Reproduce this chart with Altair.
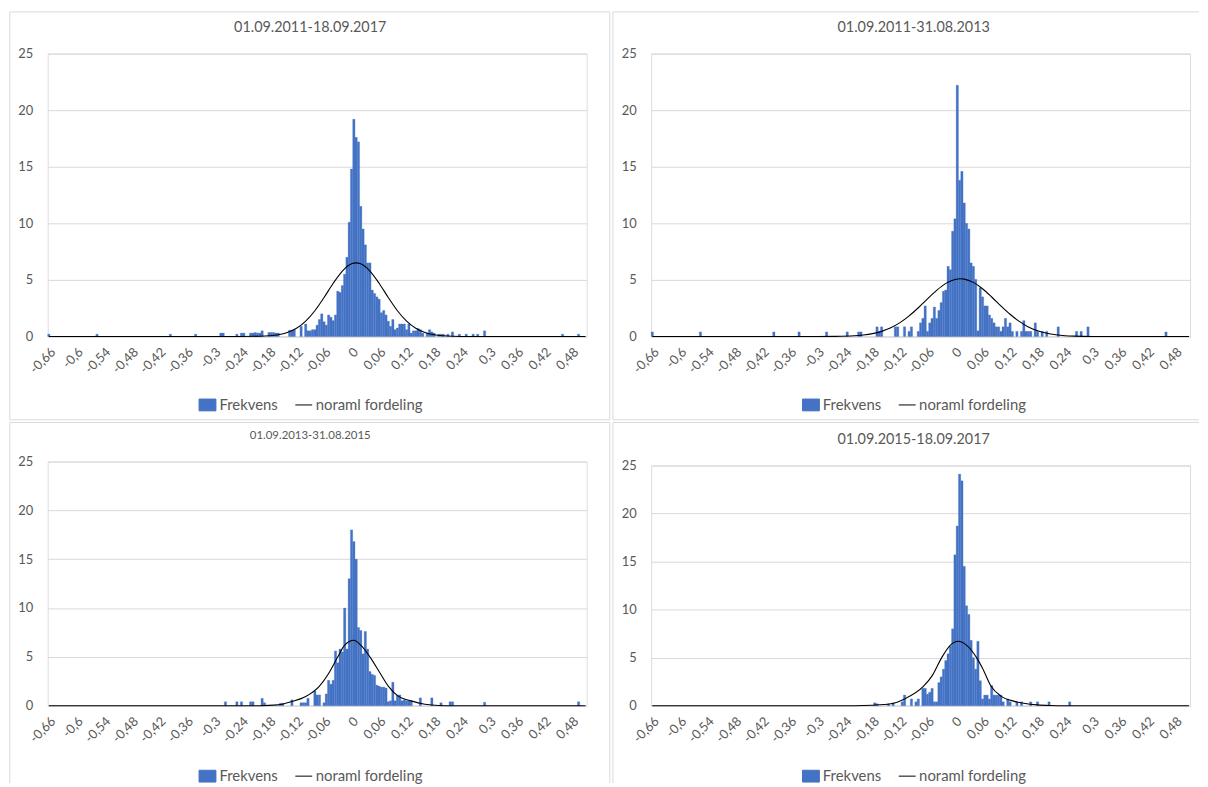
import altair as alt
import pandas as pd

FONT = "Lato"
GRAY = "#595959"
BLUE = "#4472C4"
GRID = "#D9D9D9"
SERIES = ["Frekvens", "noraml fordeling"]
BIN_W = 0.005
X_DOMAIN = [-0.6625, 0.5125]

x_ticks = [-0.66, -0.6, -0.54, -0.48, -0.42, -0.36, -0.3, -0.24, -0.18, -0.12, -0.06,
           0.0, 0.06, 0.12, 0.18, 0.24, 0.3, 0.36, 0.42, 0.48]
y_ticks = [0, 5, 10, 15, 20, 25]

titles = ["01.09.2011-18.09.2017", "01.09.2011-31.08.2013",
          "01.09.2013-31.08.2015", "01.09.2015-18.09.2017"]

# ---- Panel 1: 01.09.2011-18.09.2017 (bin centres, frequency) ----
p1_bins = [-0.66, -0.555, -0.395, -0.34, -0.285, -0.28, -0.25, -0.24, -0.235, -0.22, -0.215,
           -0.21, -0.205, -0.2, -0.195, -0.18, -0.175, -0.17, -0.165, -0.16, -0.135, -0.13,
           -0.125, -0.11, -0.1, -0.095, -0.09, -0.085, -0.08, -0.075, -0.07, -0.065, -0.06,
           -0.055, -0.05, -0.045, -0.04, -0.035, -0.03, -0.025, -0.02, -0.015, -0.01, -0.005,
           0.0, 0.005, 0.01, 0.015, 0.02, 0.025, 0.03, 0.035, 0.04, 0.045, 0.05, 0.055, 0.06,
           0.065, 0.07, 0.075, 0.08, 0.085, 0.09, 0.095, 0.1, 0.105, 0.11, 0.115, 0.12, 0.125,
           0.13, 0.135, 0.14, 0.145, 0.15, 0.155, 0.165, 0.17, 0.175, 0.18, 0.19, 0.195, 0.2,
           0.21, 0.22, 0.235, 0.25, 0.265, 0.275, 0.29, 0.46, 0.495]
p1_freq = [0.2, 0.2, 0.2, 0.2, 0.3, 0.3, 0.2, 0.3, 0.3, 0.3, 0.3,
           0.35, 0.3, 0.3, 0.5, 0.35, 0.35, 0.35, 0.3, 0.3, 0.55, 0.55,
           0.6, 0.9, 1.1, 0.5, 0.5, 0.6, 0.6, 1.0, 1.5, 2.0, 1.3,
           1.0, 1.9, 1.7, 1.4, 1.9, 4.0, 3.9, 4.5, 5.5, 7.0, 10.1,
           14.8, 19.2, 17.6, 17.2, 11.5, 9.5, 8.1, 6.5, 6.5, 4.1, 3.8, 3.5, 3.3,
           2.1, 2.3, 1.9, 1.35, 0.9, 1.5, 0.6, 0.75, 1.1, 1.1, 1.1, 0.6, 1.1,
           0.3, 0.5, 0.5, 0.7, 0.6, 0.3, 0.3, 0.6, 0.4, 0.3, 0.2, 0.2, 0.2,
           0.2, 0.4, 0.2, 0.2, 0.2, 0.2, 0.5, 0.2, 0.2]
c1_x = [-0.66, -0.3, -0.24, -0.2, -0.18, -0.16, -0.14, -0.12, -0.1, -0.08, -0.06, -0.04, -0.02,
        0.0, 0.01, 0.02, 0.04, 0.06, 0.08, 0.1, 0.12, 0.14, 0.16, 0.18, 0.2, 0.22, 0.26, 0.3, 0.51]
c1_y = [0.0, 0.0, 0.0, 0.02, 0.06, 0.15, 0.35, 0.72, 1.35, 2.27, 3.44, 4.7, 5.78,
        6.42, 6.5, 6.42, 5.78, 4.7, 3.44, 2.27, 1.35, 0.72, 0.35, 0.15, 0.06, 0.02, 0.0, 0.0, 0.0]

# ---- Panel 2: 01.09.2011-31.08.2013 ----
p2_bins = [-0.66, -0.555, -0.395, -0.34, -0.28, -0.235, -0.21, -0.205, -0.17, -0.165, -0.16,
           -0.13, -0.125, -0.11, -0.1, -0.095, -0.08, -0.075, -0.07, -0.065, -0.06, -0.055,
           -0.05, -0.045, -0.04, -0.035, -0.03, -0.025, -0.02, -0.015, -0.01, -0.005, 0.0,
           0.005, 0.01, 0.015, 0.02, 0.025, 0.03, 0.035, 0.04, 0.045, 0.05, 0.055, 0.06, 0.065,
           0.07, 0.075, 0.08, 0.085, 0.09, 0.095, 0.1, 0.105, 0.11, 0.115, 0.12, 0.125, 0.135,
           0.145, 0.15, 0.155, 0.16, 0.165, 0.175, 0.18, 0.19, 0.2, 0.225, 0.265, 0.275, 0.29,
           0.46]
p2_freq = [0.4, 0.4, 0.4, 0.4, 0.4, 0.4, 0.4, 0.4, 0.85, 0.45, 0.85,
           0.85, 0.85, 0.85, 0.45, 0.85, 0.45, 1.2, 1.6, 2.7, 0.45, 1.2,
           1.6, 2.6, 1.6, 2.3, 3.0, 4.0, 4.1, 6.2, 5.9, 9.3, 10.4,
           22.2, 13.8, 14.6, 11.8, 10.0, 9.5, 6.5, 6.2, 5.05, 0.5, 4.3, 3.5, 2.7,
           2.7, 1.9, 1.6, 1.2, 0.85, 0.85, 0.45, 0.85, 1.6, 0.85, 1.2, 0.45, 0.45,
           0.45, 1.4, 0.45, 0.45, 0.45, 1.2, 0.45, 0.45, 0.45, 0.85, 0.45, 0.45, 0.85,
           0.4]
c2_x = [-0.66, -0.3, -0.26, -0.22, -0.2, -0.18, -0.16, -0.14, -0.12, -0.1, -0.08, -0.06, -0.04,
        -0.02, 0.0, 0.012, 0.02, 0.04, 0.06, 0.08, 0.1, 0.12, 0.14, 0.16, 0.18, 0.2, 0.22, 0.24,
        0.26, 0.3, 0.51]
c2_y = [0.0, 0.0, 0.01, 0.06, 0.13, 0.25, 0.45, 0.76, 1.22, 1.82, 2.54, 3.33, 4.08,
        4.69, 5.04, 5.1, 5.07, 4.78, 4.22, 3.49, 2.7, 1.96, 1.33, 0.84, 0.5, 0.28, 0.15, 0.07,
        0.03, 0.0, 0.0]

# ---- Panel 3: 01.09.2013-31.08.2015 ----
p3_bins = [-0.275, -0.25, -0.24, -0.22, -0.215, -0.195, -0.19, -0.155, -0.15, -0.13, -0.11,
           -0.105, -0.1, -0.095, -0.08, -0.075, -0.07, -0.06, -0.055, -0.05, -0.045, -0.04,
           -0.035, -0.03, -0.025, -0.02, -0.015, -0.01, -0.005, 0.0, 0.005, 0.01, 0.015, 0.02,
           0.025, 0.03, 0.035, 0.04, 0.045, 0.05, 0.055, 0.06, 0.065, 0.07, 0.075, 0.08, 0.085,
           0.09, 0.095, 0.1, 0.105, 0.11, 0.115, 0.12, 0.125, 0.13, 0.15, 0.175, 0.195, 0.215,
           0.22, 0.29, 0.495]
p3_freq = [0.4, 0.4, 0.4, 0.4, 0.4, 0.75, 0.3, 0.25, 0.25, 0.6, 0.3,
           0.3, 0.3, 0.75, 1.5, 1.1, 1.1, 0.3, 1.2, 2.6, 2.2, 2.6,
           5.6, 4.4, 5.8, 5.5, 10.0, 5.8, 13.0, 18.0, 16.8, 15.0, 8.0, 7.7,
           5.3, 7.6, 5.8, 3.5, 3.2, 3.1, 2.1, 2.0, 1.9, 1.9, 1.8, 0.4, 0.5,
           2.4, 0.5, 1.1, 1.1, 0.5, 0.6, 0.5, 0.5, 0.5, 0.8, 0.8, 0.3, 0.4,
           0.4, 0.35, 0.4]
c3_x = [-0.66, -0.2, -0.16, -0.13, -0.1, -0.07, -0.05, -0.03, -0.015, 0.005, 0.02, 0.04, 0.06,
        0.08, 0.1, 0.13, 0.16, 0.19, 0.22, 0.51]
c3_y = [0.0, 0.0, 0.08, 0.42, 0.93, 2.0, 3.3, 5.0, 6.2, 6.7, 6.2, 5.0, 3.5,
        2.0, 1.03, 0.49, 0.15, 0.02, 0.0, 0.0]

# ---- Panel 4: 01.09.2015-18.09.2017 ----
p4_bins = [-0.175, -0.17, -0.145, -0.135, -0.115, -0.11, -0.095, -0.085, -0.08, -0.07, -0.065,
           -0.06, -0.055, -0.05, -0.045, -0.04, -0.035, -0.03, -0.025, -0.02, -0.015, -0.01,
           -0.005, 0.0, 0.005, 0.01, 0.015, 0.02, 0.025, 0.03, 0.035, 0.04, 0.045, 0.05,
           0.055, 0.06, 0.065, 0.07, 0.075, 0.08, 0.085, 0.09, 0.095, 0.1, 0.105, 0.115,
           0.12, 0.135, 0.145, 0.165, 0.18, 0.205, 0.25]
p4_freq = [0.3, 0.2, 0.2, 0.3, 0.4, 1.1, 0.7, 0.4, 0.7, 1.8, 1.8,
           1.2, 1.4, 1.8, 0.4, 0.4, 2.4, 3.0, 3.8, 4.7, 5.4, 6.2,
           8.0, 15.7, 18.7, 24.1, 23.4, 14.5, 10.4, 9.5, 6.8, 5.0, 3.8, 6.7,
           2.6, 0.7, 1.1, 1.1, 0.7, 2.1, 1.1, 1.1, 1.1, 1.1, 0.4, 0.7,
           0.4, 0.4, 0.4, 0.4, 0.4, 0.4, 0.4]
c4_x = [-0.66, -0.22, -0.18, -0.14, -0.11, -0.069, -0.05, -0.029, -0.01, 0.007, 0.025, 0.047,
        0.06, 0.079, 0.1, 0.13, 0.15, 0.18, 0.21, 0.24, 0.51]
c4_y = [0.0, 0.0, 0.05, 0.2, 0.7, 2.0, 3.1, 5.0, 6.3, 6.7, 6.3, 5.0,
        3.9, 2.0, 1.0, 0.45, 0.25, 0.08, 0.02, 0.0, 0.0]

LABEL_EXPR = "replace(replace(format(datum.value, '.2~f'), '.', ','), '\u2212', '-')"
frame_df = pd.DataFrame({"frame": ["chart area"]})


def legend(x, y, symbol):
    return alt.Legend(title=None, orient="none", legendX=x, legendY=y, direction="horizontal",
                      labelFont=FONT, labelFontSize=15, labelColor=GRAY, symbolSize=289,
                      symbolType=symbol, symbolStrokeWidth=1, labelOffset=3, padding=0)


def frame(left, right, top, bottom, sides):
    """Light grey chart-area border (Excel style), placed around the plot in pixels."""
    parts = []
    base = alt.Chart(frame_df).mark_rule(color=GRID, strokeWidth=1)
    if "l" in sides:
        parts.append(base.encode(x=alt.value(left), y=alt.value(top), y2=alt.value(bottom)))
    if "r" in sides:
        parts.append(base.encode(x=alt.value(right), y=alt.value(top), y2=alt.value(bottom)))
    if "t" in sides:
        parts.append(base.encode(x=alt.value(left), x2=alt.value(right), y=alt.value(top)))
    if "b" in sides:
        parts.append(base.encode(x=alt.value(left), x2=alt.value(right), y=alt.value(bottom)))
    return parts


def panel(title, title_size, title_offset, bins, freq, cx, cy, height, legend_y, border):
    bars_df = pd.DataFrame({
        "lo": [b - BIN_W / 2 for b in bins],
        "hi": [b + BIN_W / 2 for b in bins],
        "f": freq,
        "s": SERIES[0],
    })
    curve_df = pd.DataFrame({"x": cx, "y": cy, "s": SERIES[1]})

    xscale = alt.Scale(domain=X_DOMAIN, nice=False, zero=False)
    yscale = alt.Scale(domain=[0, 25], nice=False)
    xaxis = alt.Axis(values=x_ticks, labelExpr=LABEL_EXPR, labelAngle=-45, labelFont=FONT,
                     labelFontSize=13, labelColor=GRAY, ticks=False, grid=False,
                     domainColor=GRID, labelPadding=9, title=None, labelOverlap=False,
                     labelBound=False, labelFlush=False)
    yaxis = alt.Axis(values=y_ticks, grid=True, gridColor=GRID, domain=False, ticks=False,
                     labelPadding=15, labelFont=FONT, labelFontSize=13, labelColor=GRAY,
                     title=None, labelOverlap=False)
    bars = alt.Chart(bars_df).mark_bar(stroke=BLUE, strokeWidth=0.3).encode(
        x=alt.X("lo:Q", scale=xscale, axis=xaxis),
        x2="hi:Q",
        y=alt.Y("f:Q", scale=yscale, axis=yaxis),
        y2=alt.datum(0),
        fill=alt.Fill("s:N", scale=alt.Scale(domain=[SERIES[0]], range=[BLUE]),
                      legend=legend(152, legend_y, "M-1,-0.7H1V0.7H-1Z")),
    )
    line = alt.Chart(curve_df).mark_line(interpolate="monotone", strokeWidth=1.1).encode(
        x=alt.X("x:Q", scale=xscale, axis=xaxis),
        y=alt.Y("y:Q", scale=yscale, axis=yaxis),
        stroke=alt.Stroke("s:N", scale=alt.Scale(domain=[SERIES[1]], range=["#000000"]),
                          legend=legend(249, legend_y, "stroke")),
    )
    return alt.layer(*frame(*border), bars, line).properties(
        width=543, height=height,
        title=alt.TitleParams(title, font=FONT, fontSize=title_size, fontWeight="normal",
                              color=GRAY, anchor="middle", offset=title_offset, dx=-7),
    )


p1 = panel(titles[0], 14.5, -24, p1_bins, p1_freq, c1_x, c1_y, 285, 345,
           (-38.2, 566.3, -42, 369, "lrtb"))
p2 = panel(titles[1], 14.5, -24, p2_bins, p2_freq, c2_x, c2_y, 285, 345,
           (-38.5, 552, -42, 369, "ltb"))
p3 = panel(titles[2], 11.5, -20, p3_bins, p3_freq, c3_x, c3_y, 246, 308,
           (-38.2, 566.3, -39.3, 324, "lrt"))
p4 = panel(titles[3], 14.5, -25.5, p4_bins, p4_freq, c4_x, c4_y, 242, 304,
           (-38.5, 552, -43.3, 320, "lt"))


def res(c):
    return c.resolve_scale(x="independent", y="independent", fill="independent",
                           stroke="independent").resolve_legend(fill="independent",
                                                                stroke="independent")


left = res(alt.vconcat(p1, p3, spacing=0))
right = res(alt.vconcat(p2, p4, spacing=0))

chart = res(alt.hconcat(left, right, spacing=0)).properties(
    padding={"left": 0, "top": 0, "right": 0, "bottom": 0}
).configure_view(strokeWidth=0).configure(background="white")

chart.save("out.html", embed_options={"renderer": "svg", "actions": False})
